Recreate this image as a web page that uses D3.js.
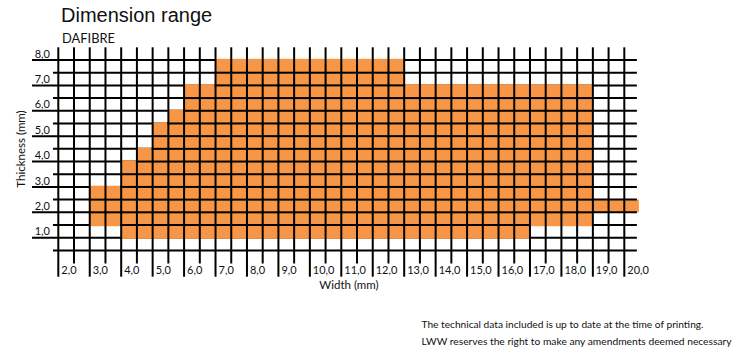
<!DOCTYPE html>
<html>
<head>
<meta charset="utf-8">
<script src="https://cdn.jsdelivr.net/npm/d3@7"></script>
<style>
  html, body { margin: 0; padding: 0; background: #fff; }
  svg { display: block; }
</style>
</head>
<body>
<svg id="chart" width="754" height="356"></svg>
<script>
// ---- DATA ----
const title = "Dimension range";
const subtitle = "DAFIBRE";
const xAxisTitle = "Width (mm)";
const yAxisTitle = "Thickness (mm)";
const footnotes = [
  "The technical data included is up to date at the time of printing.",
  "LWW reserves the right to make any amendments deemed necessary"
];

// Main range: for each width column (left edge, 0.5 mm wide) the thickness range
const widthCols = [3.0, 3.5, 4.0, 4.5, 5.0, 5.5, 6.0, 6.5, 7.0, 7.5, 8.0, 8.5, 9.0, 9.5, 10.0, 10.5,
                   11.0, 11.5, 12.0, 12.5, 13.0, 13.5, 14.0, 14.5, 15.0, 15.5, 16.0, 16.5, 17.0, 17.5, 18.0, 18.5];
const thickMin  = [1.5, 1.5, 1.0, 1.0, 1.0, 1.0, 1.0, 1.0, 1.0, 1.0, 1.0, 1.0, 1.0, 1.0, 1.0, 1.0,
                   1.0, 1.0, 1.0, 1.0, 1.0, 1.0, 1.0, 1.0, 1.0, 1.0, 1.0, 1.0, 1.5, 1.5, 1.5, 1.5];
const thickMax  = [3.0, 3.0, 4.0, 4.5, 5.5, 6.0, 7.0, 7.0, 8.0, 8.0, 8.0, 8.0, 8.0, 8.0, 8.0, 8.0,
                   8.0, 8.0, 8.0, 8.0, 7.0, 7.0, 7.0, 7.0, 7.0, 7.0, 7.0, 7.0, 7.0, 7.0, 7.0, 7.0];

// Extra strip at large widths
const extraWidthFrom = [19.0];
const extraWidthTo   = [20.4];
const extraThickMin  = [2.0];
const extraThickMax  = [2.5];

const xTickValues = [2, 3, 4, 5, 6, 7, 8, 9, 10, 11, 12, 13, 14, 15, 16, 17, 18, 19, 20];
const xTickLabels = ["2,0","3,0","4,0","5,0","6,0","7,0","8,0","9,0","10,0","11,0","12,0","13,0","14,0","15,0","16,0","17,0","18,0","19,0","20,0"];
const yTickValues = [1, 2, 3, 4, 5, 6, 7, 8];
const yTickLabels = ["1,0","2,0","3,0","4,0","5,0","6,0","7,0","8,0"];

// ---- LAYOUT ----
const svg = d3.select("#chart");
const x = d3.scaleLinear().domain([2, 20]).range([58.3, 624.3]);
const y = d3.scaleLinear().domain([1, 8]).range([237.7, 60]);
const ORANGE = "#F79646";
const LW = 2;
const step = 0.5;
const gridRight = x(20.4);
const calibri = "Lato, 'Open Sans', sans-serif";

// Titles
svg.append("text").attr("x", 61).attr("y", 22)
  .style("font-family", "'Liberation Sans', Arial, sans-serif").style("font-size", "20px").attr("fill", "#111")
  .text(title);
svg.append("text").attr("x", 62).attr("y", 42.7)
  .style("font-family", calibri).style("font-size", "13px").attr("fill", "#111")
  .attr("textLength", 53).attr("lengthAdjust", "spacingAndGlyphs")
  .text(subtitle);

// Extra strip (under grid lines)
const extra = extraWidthFrom.map((w, i) => ({w0: w, w1: extraWidthTo[i], t0: extraThickMin[i], t1: extraThickMax[i]}));
svg.append("g").selectAll("rect").data(extra).join("rect")
  .attr("x", d => x(d.w0)).attr("width", d => x(d.w1) - x(d.w0) + 2)
  .attr("y", d => y(d.t1)).attr("height", d => y(d.t0) - y(d.t1))
  .attr("fill", ORANGE);

// Horizontal grid lines 0.5 .. 8.0
const hVals = d3.range(0.5, 8.01, step);
svg.append("g").selectAll("line").data(hVals).join("line")
  .attr("x1", d => Number.isInteger(d) ? 32 : 53)
  .attr("x2", gridRight)
  .attr("y1", d => y(d)).attr("y2", d => y(d))
  .attr("stroke", "#000").attr("stroke-width", LW);

// Main range columns (cover their outer horizontal boundary lines)
const cols = widthCols.map((w, i) => ({w: w, t0: thickMin[i], t1: thickMax[i]}));
svg.append("g").selectAll("rect").data(cols).join("rect")
  .attr("x", d => x(d.w)).attr("width", d => x(d.w + step) - x(d.w))
  .attr("y", d => y(d.t1) - 1.2).attr("height", d => y(d.t0) - y(d.t1) + 2.4)
  .attr("fill", ORANGE);

// Interior horizontal lines inside the orange columns
const interior = [];
cols.forEach(c => {
  hVals.forEach(v => { if (v > c.t0 + 1e-9 && v < c.t1 - 1e-9) interior.push({w: c.w, v: v}); });
});
svg.append("g").selectAll("line").data(interior).join("line")
  .attr("x1", d => x(d.w) - 1).attr("x2", d => x(d.w + step) + 1)
  .attr("y1", d => y(d.v)).attr("y2", d => y(d.v))
  .attr("stroke", "#000").attr("stroke-width", LW);

// Vertical grid lines 2.0 .. 20.0
const vVals = x.ticks(36);
svg.append("g").selectAll("line").data(vVals).join("line")
  .attr("x1", d => x(d)).attr("x2", d => x(d))
  .attr("y1", y(8.5))
  .attr("y2", d => Number.isInteger(d) ? 276.7 : 263.5)
  .attr("stroke", "#000").attr("stroke-width", LW);

// Tick labels
svg.append("g").selectAll("text").data(xTickValues).join("text")
  .attr("x", d => x(d) + 3).attr("y", 273.5)
  .style("font-family", calibri).style("font-size", "11px").attr("fill", "#111")
  .text((d, i) => xTickLabels[i]);
svg.append("g").selectAll("text").data(yTickValues).join("text")
  .attr("x", 50).attr("y", d => y(d) - 2.3).attr("text-anchor", "end")
  .style("font-family", calibri).style("font-size", "11px").attr("fill", "#111")
  .text((d, i) => yTickLabels[i]);

// Axis titles
svg.append("text").attr("x", 349).attr("y", 289).attr("text-anchor", "middle")
  .style("font-family", calibri).style("font-size", "11.5px").attr("fill", "#111")
  .text(xAxisTitle);
svg.append("text").attr("transform", "translate(24.5,149) rotate(-90)").attr("text-anchor", "middle")
  .style("font-family", calibri).style("font-size", "11.5px").attr("fill", "#111")
  .text(yAxisTitle);

// Footnotes
const fnWidths = [282, 310];
svg.append("g").selectAll("text").data(footnotes).join("text")
  .attr("x", 421.5).attr("y", (d, i) => 328 + i * 17)
  .style("font-family", calibri).style("font-size", "9.5px").attr("fill", "#111")
  .attr("textLength", (d, i) => fnWidths[i]).attr("lengthAdjust", "spacingAndGlyphs")
  .text(d => d);
</script>
</body>
</html>
